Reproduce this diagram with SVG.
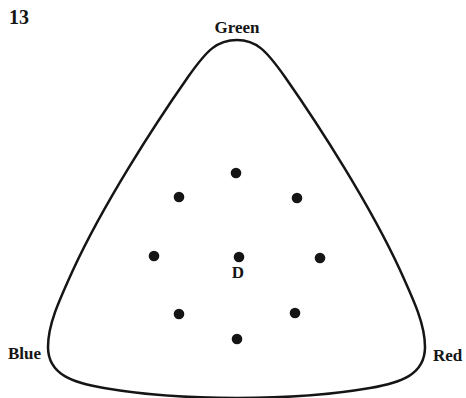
<svg xmlns="http://www.w3.org/2000/svg" width="466" height="398" viewBox="0 0 466 398">
<style>
text{font-family:"Liberation Serif",serif;font-weight:bold;fill:#151515;font-size:17px}
.dot{fill:#151515}
.outline{fill:none;stroke:#151515;stroke-width:2.5}
</style>
<rect width="466" height="398" fill="#fff"/>
<text x="9" y="24" style="font-size:20px">13</text>
<g id="triangle">
<path class="outline" d="M237,40 C256,40 266,50 285,77 C320,127 370,205 400,270 C415,303 425,325 425,347 C425,375 400,383 370,388 C330,395 280,398 237,398 C194,398 144,395 104,388 C74,383 48,375 48,347 C48,325 58,303 73,270 C103,205 153,127 188,77 C207,50 217,40 237,40 Z"/>
</g>
<g id="labels">
<text x="237" y="33" text-anchor="middle">Green</text>
<text x="8" y="359">Blue</text>
<text x="433" y="361">Red</text>
</g>
<g id="points">
<circle class="dot" cx="236" cy="173" r="5.3"/>
<circle class="dot" cx="179" cy="197" r="5.3"/>
<circle class="dot" cx="297" cy="198" r="5.3"/>
<circle class="dot" cx="154" cy="256" r="5.3"/>
<circle class="dot" cx="239" cy="257" r="5.3"/>
<circle class="dot" cx="320" cy="258" r="5.3"/>
<circle class="dot" cx="179" cy="314" r="5.3"/>
<circle class="dot" cx="295" cy="313" r="5.3"/>
<circle class="dot" cx="237" cy="339" r="5.3"/>
</g>
<g id="D"><text x="238" y="278" text-anchor="middle">D</text></g>
<g id="connectors"/>
</svg>
